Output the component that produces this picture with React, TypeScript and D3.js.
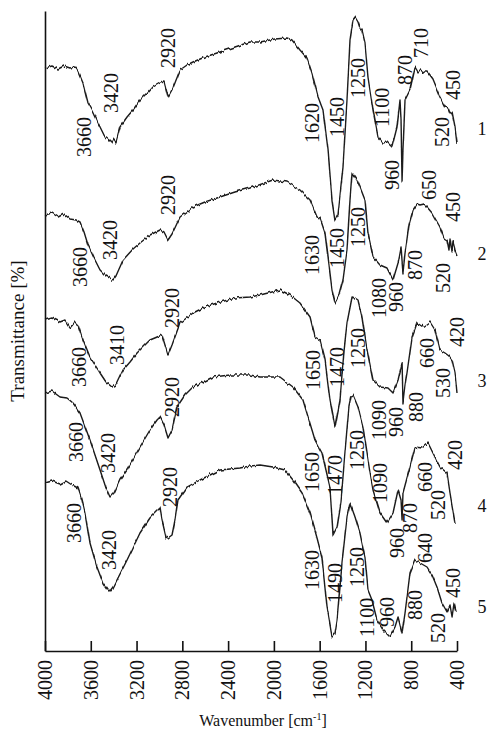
import { useEffect, useRef } from "react";
import * as d3 from "d3";

const WIDTH = 489;
const HEIGHT = 731;
const FONT = "'Liberation Serif', 'Times New Roman', serif";

const X_DOMAIN: [number, number] = [4000, 400];
const Y_DOMAIN: [number, number] = [0, 128];
const X_TICKS = [4000, 3600, 3200, 2800, 2400, 2000, 1600, 1200, 800, 400];

// spectra: [wavenumber, transmittance (stacked, arb.)]
const SPECTRUM_1: [number, number][] = [
  [4000, 116.6], [3939, 117], [3886, 116.4], [3834, 117], [3782, 116.6], [3738, 116.8],
  [3712, 116], [3668, 113.6], [3624, 109.6], [3589, 108.2], [3519, 104.8], [3476, 102.8],
  [3441, 102.2], [3415, 101.6], [3397, 102.4], [3380, 101.8], [3345, 104.8], [3283, 106.8],
  [3231, 108.2], [3170, 110.2], [3109, 111.6], [3056, 113], [2995, 113.8], [2960, 114],
  [2925, 110.8], [2882, 112.6], [2820, 116.2], [2759, 117.2], [2707, 117.8], [2602, 118.8],
  [2471, 119.8], [2340, 120.8], [2209, 121.8], [2121, 121.8], [1990, 122.4], [1885, 122.6],
  [1842, 122.2], [1772, 120.2], [1711, 118.6], [1667, 115.6], [1614, 110.8], [1571, 108.2],
  [1527, 100.2], [1492, 90.2], [1466, 86.2], [1440, 87.2], [1396, 96.8], [1361, 110.2],
  [1335, 122.2], [1309, 126.2], [1291, 126.8], [1265, 125.8], [1248, 124.6], [1230, 124.2],
  [1204, 121.6], [1178, 114.8], [1134, 108.2], [1090, 102.8], [1047, 101.6], [1012, 101.8],
  [968, 100.8], [924, 104.8], [898, 110.2], [889, 106.2], [880, 93.8], [872, 100.2],
  [854, 110.2], [811, 112.2], [767, 116.8], [741, 115.8], [723, 116.2], [688, 115.8],
  [662, 115.8], [610, 114.2], [549, 110.8], [505, 108.8], [478, 108.6], [461, 107.6],
  [443, 107.8], [417, 104.8], [400, 101.6],
];

const SPECTRUM_2: [number, number][] = [
  [4000, 87.2], [3939, 87.6], [3886, 86.8], [3834, 87.4], [3782, 86.4], [3729, 86.2],
  [3694, 85.8], [3659, 83.8], [3624, 81.2], [3572, 78.6], [3519, 76.2], [3467, 75],
  [3432, 74.6], [3406, 74.2], [3380, 75], [3318, 78.2], [3231, 80.4], [3170, 81.6],
  [3083, 83.2], [2995, 84.2], [2960, 83.8], [2925, 82.2], [2890, 83.4], [2820, 86.8],
  [2707, 88.8], [2602, 89.8], [2471, 90.8], [2340, 91.8], [2209, 92.6], [2008, 94.2],
  [1885, 93.8], [1772, 92.2], [1684, 90.2], [1623, 86.8], [1597, 86.6], [1553, 83.6],
  [1518, 77.2], [1492, 72.2], [1466, 69.6], [1431, 71.2], [1396, 74.2], [1361, 80.2],
  [1335, 90.2], [1317, 95.6], [1291, 94.8], [1274, 94.2], [1248, 92.8], [1204, 90.2],
  [1178, 83.6], [1134, 78.8], [1073, 77.2], [1012, 76.6], [959, 74.2], [915, 77.6],
  [889, 80.8], [880, 77.8], [872, 75.6], [854, 79.6], [820, 85.2], [784, 88.2],
  [749, 89.4], [723, 89.2], [688, 89.4], [662, 88.8], [618, 87.6], [584, 86.2],
  [549, 84.8], [514, 82.6], [487, 82.2], [470, 80.2], [461, 82.6], [443, 79.8],
  [435, 81.8], [417, 80.2], [400, 79.2],
];

const SPECTRUM_3: [number, number][] = [
  [4000, 66.2], [3939, 66.6], [3869, 65.8], [3825, 66.2], [3782, 64.6], [3738, 65.8],
  [3712, 65.2], [3677, 62.8], [3607, 58.8], [3519, 55.6], [3467, 53.8], [3415, 52.8],
  [3380, 53.2], [3318, 56.2], [3257, 57.8], [3196, 59.6], [3083, 62.2], [2978, 63.2],
  [2925, 59.2], [2890, 61.2], [2820, 65.6], [2707, 67.6], [2602, 68.8], [2497, 69.6],
  [2340, 70.6], [2209, 70.8], [2121, 71.2], [1947, 72.2], [1859, 71.2], [1772, 69.6],
  [1684, 66.8], [1641, 62.8], [1597, 62.2], [1553, 58.2], [1510, 50.2], [1466, 44.8],
  [1422, 50.2], [1387, 60.2], [1361, 65.6], [1317, 70.8], [1291, 70.6], [1265, 70.2],
  [1230, 66.8], [1186, 60.2], [1134, 54.2], [1073, 52.8], [1003, 52.6], [959, 51.6],
  [915, 54.2], [880, 57.6], [872, 49.6], [854, 53.2], [837, 55.6], [793, 62.8],
  [749, 65.6], [697, 64.8], [636, 65.8], [592, 64.2], [549, 60.2], [505, 59.6],
  [470, 59], [443, 58.2], [417, 55.6], [400, 51.6],
];

const SPECTRUM_4: [number, number][] = [
  [4000, 51.6], [3939, 52], [3869, 50.8], [3808, 50.6], [3755, 49.6], [3694, 47.6],
  [3607, 42.2], [3519, 36.2], [3467, 32.6], [3432, 30.8], [3397, 31.6], [3345, 34.2],
  [3283, 36.2], [3170, 40.8], [3083, 44.2], [3021, 46.2], [2995, 46.8], [2960, 45.2],
  [2925, 42.6], [2890, 44.2], [2847, 48.8], [2777, 51.2], [2707, 52.8], [2532, 54.8],
  [2383, 55.2], [2209, 55.2], [2121, 54.8], [1947, 54.8], [1833, 52.8], [1746, 50.2],
  [1667, 44.2], [1641, 42.2], [1580, 39.6], [1510, 32.8], [1483, 23.2], [1448, 24.8],
  [1413, 30], [1378, 40], [1344, 49], [1326, 51], [1309, 51.2], [1265, 48.8],
  [1221, 44.8], [1160, 35.6], [1134, 32.2], [1073, 27.6], [1012, 25.6], [959, 27.6],
  [915, 32.2], [889, 30.2], [880, 26.2], [872, 31.6], [811, 36.8], [767, 40.8],
  [706, 40.6], [653, 41.6], [610, 39.6], [549, 36.8], [487, 35.6], [461, 31.6],
  [417, 25.6],
];

const SPECTRUM_5: [number, number][] = [
  [4000, 33.6], [3939, 34], [3869, 33.4], [3817, 34], [3764, 33.2], [3712, 32.6],
  [3677, 30.2], [3650, 27.6], [3607, 21.6], [3546, 16.8], [3493, 13.6], [3450, 12.2],
  [3432, 11.8], [3406, 12.6], [3371, 14.2], [3283, 18.2], [3170, 23.6], [3083, 26.6],
  [2995, 28.6], [2978, 26.2], [2943, 22.8], [2925, 22.6], [2890, 23.2], [2864, 26.2],
  [2838, 30.2], [2759, 32.8], [2646, 34.2], [2471, 36.2], [2296, 36.6], [2209, 37],
  [2121, 37.2], [2008, 36.8], [1903, 36.2], [1833, 34.2], [1754, 31.6], [1684, 27.6],
  [1623, 22.6], [1580, 18.8], [1536, 8.8], [1492, 2.8], [1466, 3.6], [1448, 6.2],
  [1405, 17.6], [1361, 26.8], [1335, 29.6], [1291, 26.8], [1248, 23.6], [1204, 18.8],
  [1178, 12.2], [1143, 10.2], [1099, 6.2], [1047, 4.2], [985, 2.8], [942, 4.8],
  [915, 6.8], [880, 3.6], [854, 7.6], [811, 15.6], [767, 18.2], [723, 17.6],
  [662, 16.8], [618, 15.2], [575, 12.8], [531, 9.6], [487, 7.8], [461, 9.2],
  [443, 6.8], [426, 9.6], [408, 7.8],
];

// peak labels: [text, wavenumber at label centre, value at label foot]
const PEAKS_1: [string, number, number][] = [
  ["3660", 3659, 98.8], ["3420", 3423, 107.6], ["2920", 2925, 116.6], ["1620", 1667, 101.6],
  ["1450", 1448, 102.8], ["1250", 1265, 110.6], ["1100", 1055, 104.8], ["960", 968, 92.2],
  ["870", 854, 113.2], ["710", 715, 118.6], ["520", 531, 100.8], ["450", 435, 110.2],
];
const PEAKS_2: [string, number, number][] = [
  ["3660", 3694, 72.8], ["3420", 3432, 78.2], ["2920", 2925, 87.2], ["1630", 1667, 75.2],
  ["1450", 1448, 76.6], ["1250", 1265, 80.8], ["1080", 1082, 66.6], ["960", 933, 67.8],
  ["870", 767, 74.2], ["650", 645, 90.2], ["520", 522, 71.6], ["450", 435, 85.8],
];
const PEAKS_3: [string, number, number][] = [
  ["3660", 3703, 52.8], ["3410", 3371, 57.2], ["2920", 2890, 64.6], ["1650", 1658, 52.2],
  ["1470", 1448, 52.8], ["1250", 1265, 56.6], ["1090", 1082, 42.2], ["960", 933, 42.8],
  ["880", 758, 45.8], ["660", 662, 56.6], ["530", 522, 50.6], ["420", 400, 60.8],
];
const PEAKS_4: [string, number, number][] = [
  ["3660", 3729, 37.8], ["3420", 3450, 35.6], ["2920", 2890, 46.8], ["1650", 1667, 31.8],
  ["1470", 1466, 31.2], ["1250", 1274, 36.2], ["1090", 1073, 29.6], ["960", 924, 18.6],
  ["870", 811, 23.6], ["660", 679, 31.8], ["520", 566, 26.2], ["420", 417, 36.2],
];
const PEAKS_5: [string, number, number][] = [
  ["3660", 3747, 21.6], ["3420", 3441, 16.2], ["2920", 2908, 28.8], ["1630", 1667, 12.2],
  ["1490", 1466, 9.6], ["1250", 1274, 12.8], ["1100", 1186, 2.8], ["960", 1012, 4.8],
  ["880", 767, 6.2], ["640", 679, 17.6], ["520", 566, 1.6], ["450", 435, 10.6],
];

const SPECTRA = [SPECTRUM_1, SPECTRUM_2, SPECTRUM_3, SPECTRUM_4, SPECTRUM_5];
const PEAKS = [PEAKS_1, PEAKS_2, PEAKS_3, PEAKS_4, PEAKS_5];

// sample numbers at the right end of each trace
const CURVE_TAGS: [string, number, number][] = [
  ["1", 182, 103.2], ["2", 182, 78.2], ["3", 182, 52.8], ["4", 182, 27.8], ["5", 182, 7.6],
];

function drawChart(el: SVGSVGElement) {
  const svg = d3.select(el);
  svg.selectAll("*").remove();

  const x = d3.scaleLinear().domain(X_DOMAIN).range([45, 457]);
  const y = d3.scaleLinear().domain(Y_DOMAIN).range([651, 11]);

  // grainy stroke, like the scanned spectrometer trace (rendering effect only)
  const filter = svg
    .append("defs")
    .append("filter")
    .attr("id", "grain")
    .attr("filterUnits", "userSpaceOnUse")
    .attr("x", 0)
    .attr("y", 0)
    .attr("width", WIDTH)
    .attr("height", HEIGHT);
  filter
    .append("feTurbulence")
    .attr("type", "fractalNoise")
    .attr("baseFrequency", "0.45 0.03")
    .attr("numOctaves", 2)
    .attr("seed", 7)
    .attr("result", "noise");
  filter
    .append("feColorMatrix")
    .attr("in", "noise")
    .attr("type", "matrix")
    .attr("values", "0 0 0 0 0.5  0 1 0 0 0  0 0 1 0 0  0 0 0 0 1")
    .attr("result", "shift");
  filter
    .append("feDisplacementMap")
    .attr("in", "SourceGraphic")
    .attr("in2", "shift")
    .attr("scale", 5)
    .attr("xChannelSelector", "R")
    .attr("yChannelSelector", "G");

  // axes
  const xAxis = d3
    .axisBottom(x)
    .tickValues(X_TICKS)
    .tickSizeInner(-10)
    .tickSizeOuter(0)
    .tickFormat(() => "");
  const gx = svg.append("g").attr("transform", `translate(0,${y(0)})`).call(xAxis);
  gx.selectAll("path, line").attr("stroke", "#111").attr("stroke-width", 1.6);

  const gy = svg
    .append("g")
    .attr("transform", `translate(${x(4000)},0)`)
    .call(d3.axisLeft(y).tickValues([]).tickSizeOuter(0));
  gy.selectAll("path").attr("stroke", "#111").attr("stroke-width", 1.6);

  svg
    .append("g")
    .selectAll("text")
    .data(X_TICKS)
    .join("text")
    .attr("transform", (d) => `translate(${x(d) + 7},${y(0) + 9}) rotate(-90)`)
    .attr("text-anchor", "end")
    .attr("font-family", FONT)
    .attr("font-size", 20)
    .attr("fill", "#111")
    .text((d) => d);

  // axis titles
  const title = svg
    .append("text")
    .attr("x", 263)
    .attr("y", 726)
    .attr("text-anchor", "middle")
    .attr("font-family", FONT)
    .attr("font-size", 16)
    .attr("fill", "#111");
  title.append("tspan").text("Wavenumber [cm");
  title.append("tspan").attr("dy", -6).attr("font-size", 10).text("-1");
  title.append("tspan").attr("dy", 6).text("]");

  svg
    .append("text")
    .attr("transform", `translate(24,${(y(0) + y(128)) / 2}) rotate(-90)`)
    .attr("text-anchor", "middle")
    .attr("font-family", FONT)
    .attr("font-size", 19)
    .attr("fill", "#111")
    .text("Transmittance [%]");

  // spectra
  const line = d3
    .line<[number, number]>()
    .x((d) => x(d[0]))
    .y((d) => y(d[1]));

  svg
    .append("g")
    .attr("filter", "url(#grain)")
    .selectAll("path")
    .data(SPECTRA)
    .join("path")
    .attr("d", (d) => line(d))
    .attr("fill", "none")
    .attr("stroke", "#1a1a1a")
    .attr("stroke-width", 1.4)
    .attr("stroke-linejoin", "round");

  // peak labels
  svg
    .append("g")
    .selectAll("text")
    .data(PEAKS.flat())
    .join("text")
    .attr("transform", (d) => `translate(${x(d[1]) + 7},${y(d[2])}) rotate(-90)`)
    .attr("font-family", FONT)
    .attr("font-size", 20)
    .attr("fill", "#111")
    .text((d) => d[0]);

  svg
    .append("g")
    .selectAll("text")
    .data(CURVE_TAGS)
    .join("text")
    .attr("x", (d) => x(d[1]))
    .attr("y", (d) => y(d[2]))
    .attr("text-anchor", "middle")
    .attr("font-family", FONT)
    .attr("font-size", 18)
    .attr("fill", "#111")
    .text((d) => d[0]);
}

export default function App() {
  const ref = useRef<SVGSVGElement>(null);

  useEffect(() => {
    if (ref.current) drawChart(ref.current);
  }, []);

  return (
    <svg
      ref={ref}
      width={WIDTH}
      height={HEIGHT}
      viewBox={`0 0 ${WIDTH} ${HEIGHT}`}
      style={{ position: "absolute", left: 0, top: 0, background: "#fff" }}
    />
  );
}
